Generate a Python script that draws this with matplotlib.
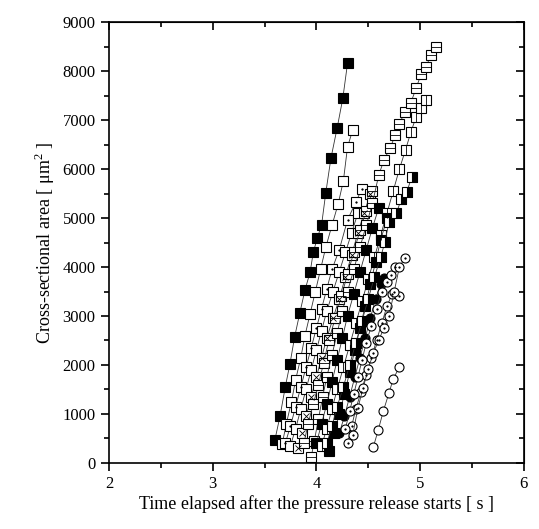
import matplotlib
matplotlib.use("Agg")
import matplotlib.pyplot as plt
from matplotlib.ticker import MultipleLocator

plt.rcParams['font.family'] = ['Liberation Serif', 'DejaVu Serif']
plt.rcParams['mathtext.fontset'] = 'custom'
plt.rcParams['mathtext.rm'] = 'Liberation Serif'

# each run: time [s], area [um^2]
t1 = [3.60, 3.65, 3.70, 3.745, 3.79, 3.84, 3.89, 3.94, 3.97, 4.01, 4.05, 4.09, 4.14, 4.20, 4.255, 4.30]
a1 = [470, 960, 1550, 2020, 2570, 3060, 3530, 3900, 4300, 4600, 4860, 5510, 6220, 6840, 7450, 8160]

t2 = [3.67, 3.71, 3.76, 3.80, 3.85, 3.89, 3.94, 3.99, 4.04, 4.09, 4.15, 4.21, 4.26, 4.30, 4.35]
a2 = [380, 800, 1250, 1700, 2150, 2600, 3050, 3500, 3950, 4400, 4850, 5290, 5760, 6450, 6800]

t3 = [3.70, 3.75, 3.80, 3.85, 3.90, 3.95, 4.00, 4.05, 4.10, 4.15, 4.22, 4.30, 4.38, 4.44]
a3 = [400, 750, 1150, 1550, 1950, 2350, 2750, 3150, 3550, 3950, 4350, 4960, 5330, 5600]

t4 = [3.82, 3.86, 3.90, 3.95, 4.00, 4.05, 4.10, 4.16, 4.22, 4.28, 4.34, 4.40, 4.46, 4.52]
a4 = [300, 600, 950, 1350, 1750, 2150, 2550, 2950, 3350, 3800, 4250, 4700, 5100, 5500]

t5 = [3.95, 3.98, 4.02, 4.06, 4.10, 4.15, 4.20, 4.25, 4.30, 4.36, 4.42, 4.48, 4.54, 4.60,
      4.65, 4.71, 4.76, 4.80, 4.85, 4.91, 4.96, 5.01, 5.06, 5.10, 5.15]
a5 = [120, 450, 900, 1350, 1750, 2200, 2650, 3100, 3500, 3950, 4400, 4850, 5300, 5870,
      6180, 6430, 6690, 6920, 7160, 7350, 7650, 7940, 8090, 8330, 8490]

t6 = [4.05, 4.10, 4.15, 4.20, 4.26, 4.32, 4.38, 4.44, 4.50, 4.56, 4.62, 4.68, 4.74, 4.80,
      4.86, 4.91, 4.96, 5.01, 5.06]
a6 = [350, 700, 1100, 1500, 1950, 2400, 2850, 3300, 3750, 4200, 4650, 5100, 5550, 6000,
      6400, 6750, 7060, 7240, 7410]

t7 = [4.10, 4.15, 4.20, 4.26, 4.32, 4.38, 4.44, 4.50, 4.56, 4.62, 4.66, 4.70, 4.77, 4.82, 4.87, 4.92]
a7 = [400, 750, 1150, 1550, 2000, 2450, 2900, 3350, 3800, 4200, 4510, 4920, 5100, 5390, 5530, 5840]

t8 = [4.12, 4.17, 4.22, 4.27, 4.32, 4.37, 4.42, 4.47, 4.52, 4.57, 4.62, 4.68]
a8 = [250, 600, 1000, 1400, 1850, 2300, 2750, 3200, 3650, 4100, 4550, 5000]

t9 = [3.88, 3.92, 3.97, 4.02, 4.07, 4.12, 4.18, 4.24, 4.30, 4.36, 4.42, 4.48, 4.54]
a9 = [400, 800, 1200, 1600, 2050, 2500, 2950, 3400, 3850, 4300, 4750, 5150, 5550]

t10 = [3.75, 3.80, 3.85, 3.90, 3.95, 4.00, 4.05, 4.10, 4.16, 4.22, 4.28, 4.34, 4.40]
a10 = [350, 700, 1100, 1500, 1900, 2300, 2700, 3100, 3500, 3900, 4300, 4700, 5100]

t11 = [4.00, 4.05, 4.10, 4.15, 4.20, 4.25, 4.30, 4.36, 4.42, 4.48, 4.54, 4.60]
a11 = [400, 800, 1200, 1650, 2100, 2550, 3000, 3450, 3900, 4350, 4800, 5200]

t12 = [4.22, 4.27, 4.32, 4.37, 4.42, 4.47, 4.52, 4.57, 4.62, 4.65]
a12 = [600, 950, 1350, 1750, 2150, 2550, 2950, 3350, 3650, 3780]

t13 = [4.28, 4.32, 4.36, 4.40, 4.44, 4.48, 4.53, 4.58, 4.63, 4.68, 4.72, 4.76]
a13 = [700, 1050, 1400, 1750, 2100, 2450, 2800, 3150, 3500, 3700, 3840, 4000]

t14 = [4.35, 4.40, 4.45, 4.50, 4.55, 4.60, 4.65, 4.70, 4.75, 4.80, 4.85]
a14 = [570, 1120, 1530, 1920, 2250, 2500, 2750, 3000, 3500, 4000, 4180]

t15 = [4.548, 4.596, 4.644, 4.70, 4.74, 4.80]
a15 = [320, 670, 1050, 1430, 1710, 1960]

t16 = [4.30, 4.34, 4.38, 4.43, 4.48, 4.53, 4.58, 4.63, 4.68, 4.73, 4.80]
a16 = [400, 750, 1100, 1450, 1800, 2150, 2500, 2850, 3200, 3450, 3410]

fig = plt.figure(figsize=(5.39, 5.29), dpi=100)
ax = fig.add_axes([0.202, 0.125, 0.770, 0.833])


def draw(t, a, marker, fill, inner=None, inner_size=4):
    kw = dict(color='#333333', lw=0.6, marker=marker, markersize=6.5,
              markeredgecolor='black', markeredgewidth=0.8, zorder=2)
    if fill == 'full':
        kw['markerfacecolor'] = 'black'
    elif fill == 'none':
        kw['markerfacecolor'] = 'white'
    else:
        kw['markerfacecolor'] = 'black'
        kw['fillstyle'] = fill
        kw['markerfacecoloralt'] = 'white'
    ax.plot(t, a, **kw)
    if inner:
        ax.plot(t, a, ls='none', marker=inner, markersize=inner_size,
                color='black', markeredgewidth=0.6, zorder=3)


draw(t1, a1, 's', 'full')
draw(t2, a2, 's', 'none')
draw(t3, a3, 's', 'none', '.', 2)
draw(t10, a10, 's', 'none')
draw(t4, a4, 's', 'none', 'x', 4.5)
draw(t9, a9, 's', 'none', '_', 6.5)
draw(t5, a5, 's', 'none', '_', 6.5)
draw(t11, a11, 's', 'full')
draw(t6, a6, 's', 'none', '|', 6.5)
draw(t8, a8, 's', 'full')
draw(t7, a7, 's', 'right')
draw(t12, a12, 'o', 'full')
draw(t16, a16, 'o', 'none', '.', 2)
draw(t13, a13, 'o', 'none', '.', 2)
draw(t14, a14, 'o', 'none', '.', 2)
draw(t15, a15, 'o', 'none')

ax.set_xlim(2, 6)
ax.set_ylim(0, 9000)
ax.xaxis.set_major_locator(MultipleLocator(1))
ax.xaxis.set_minor_locator(MultipleLocator(0.5))
ax.yaxis.set_major_locator(MultipleLocator(1000))
ax.yaxis.set_minor_locator(MultipleLocator(500))
ax.tick_params(which='both', direction='out', width=1.2, labelsize=12)
ax.tick_params(which='major', length=6)
ax.tick_params(which='minor', length=3.5)
for s in ax.spines.values():
    s.set_linewidth(1.2)

# inward ticks on top and right
top = ax.secondary_xaxis('top')
top.xaxis.set_major_locator(MultipleLocator(1))
top.xaxis.set_minor_locator(MultipleLocator(0.5))
top.tick_params(which='both', direction='in', width=1.2, labeltop=False)
top.tick_params(which='major', length=6)
top.tick_params(which='minor', length=3.5)
right = ax.secondary_yaxis('right')
right.yaxis.set_major_locator(MultipleLocator(1000))
right.yaxis.set_minor_locator(MultipleLocator(500))
right.tick_params(which='both', direction='in', width=1.2, labelright=False)
right.tick_params(which='major', length=6)
right.tick_params(which='minor', length=3.5)

ax.set_xlabel('Time elapsed after the pressure release starts [ s ]', fontsize=13, labelpad=2)
ax.set_ylabel('Cross-sectional area [ μm$^{2}$ ]', fontsize=13, labelpad=4)

fig.savefig('out.png', dpi=100)
